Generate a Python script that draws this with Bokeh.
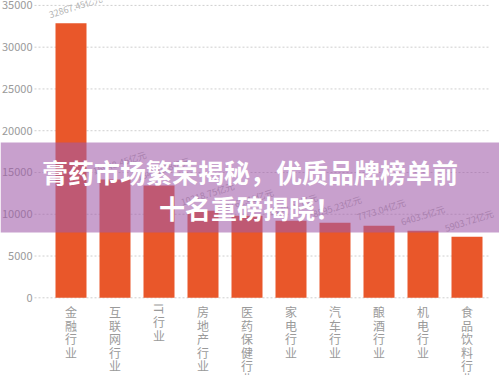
import math
from bokeh.plotting import figure
from bokeh.models import Range1d
from bokeh.core.properties import value
from bokeh.embed import file_html
from bokeh.resources import INLINE

# ---- data ----
categories = ["金融行业", "互联网行业", "IT行业", "房地产行业", "医药保健行业",
              "家电行业", "汽车行业", "酿酒行业", "机电行业", "食品饮料行业"]
values = [32867.45, 14150, 13430, 10430, 9830, 9230, 8990, 8630, 8030, 7310]
value_labels = ["32867.45亿元", "15948.45亿元", "13411.28亿元", "10218.75亿元", "9762.41亿元",
                "9125.67亿元", "8895.23亿元", "7773.04亿元", "6403.5亿元", "5903.72亿元"]
y_ticks = [0, 5000, 10000, 15000, 20000, 25000, 30000, 35000]
title_lines = ["膏药市场繁荣揭秘，优质品牌榜单前", "十名重磅揭晓！"]

# ---- layout ----
W, H = 499, 375
XLO, XHI = -1.6023, 9.7386
YLO, YHI = -9301, 35588
PX_X = (XHI - XLO) / W   # data units per pixel
PX_Y = (YHI - YLO) / H

FONT = value("Noto Sans CJK SC")
BAR = "#e9572a"
GRAY = "#9a9a9a"

p = figure(width=W, height=H, x_range=Range1d(XLO, XHI), y_range=Range1d(YLO, YHI),
           output_backend="svg", toolbar_location=None, min_border=0)
p.axis.visible = False
p.grid.visible = False
p.outline_line_color = None
p.background_fill_color = "white"

xs = list(range(len(categories)))

# grid lines (dashed) with tick labels
gx0 = XLO + 34 * PX_X
gx1 = XLO + 490 * PX_X
p.segment(x0=[gx0] * len(y_ticks), x1=[gx1] * len(y_ticks), y0=y_ticks, y1=y_ticks,
          line_color="#cfcfcf", line_width=1, line_dash="2 2")
p.text(x=[XLO + 32 * PX_X] * len(y_ticks), y=y_ticks, text=[str(t) for t in y_ticks],
       text_font=FONT, text_font_size="11px", text_color=GRAY,
       text_align="right", text_baseline="middle")

# bars
p.vbar(x=xs, top=values, bottom=0, width=31 / 44, fill_color=BAR, line_color=None)

# value labels
p.text(x=[x - 0.45 for x in xs], y=[v + 2 * PX_Y for v in values], text=value_labels,
       angle=0.31, text_font=FONT, text_font_size="9px", text_color="#b3b3b3",
       text_align="left", text_baseline="bottom")

# category labels (vertical, one char per line)
PITCH = 13.4
for x, cat in zip(xs, categories):
    latin = ""
    rest = cat
    while rest and rest[0].isascii():
        latin += rest[0]
        rest = rest[1:]
    top_px = 5.5
    if latin:
        p.text(x=[x], y=[-top_px * PX_Y], text=[latin], angle=-math.pi / 2,
               text_font=FONT, text_font_size="12px", text_color=GRAY,
               text_align="left", text_baseline="middle")
        top_px = 15.5
    cx_list = [x] * len(rest)
    cy_list = [-(top_px + PITCH * k) * PX_Y for k in range(len(rest))]
    p.text(x=cx_list, y=cy_list, text=list(rest), text_font=FONT, text_font_size="12px",
           text_color=GRAY, text_align="center", text_baseline="top")

# purple banner
b_top = YHI - 142 * PX_Y
b_bot = YHI - 232 * PX_Y
p.quad(left=[XLO], right=[XHI], top=[b_top], bottom=[b_bot],
       fill_color="#a05ba9", fill_alpha=0.58, line_color=None)

cx = XLO + 249.5 * PX_X
ys = [YHI - 171 * PX_Y, YHI - 207 * PX_Y]
p.text(x=[cx, cx], y=ys, text=title_lines, text_font=FONT, text_font_size="26px",
       text_font_style="bold", text_color="white", text_align="center", text_baseline="middle")

open("out.html", "w").write(file_html(p, INLINE))
